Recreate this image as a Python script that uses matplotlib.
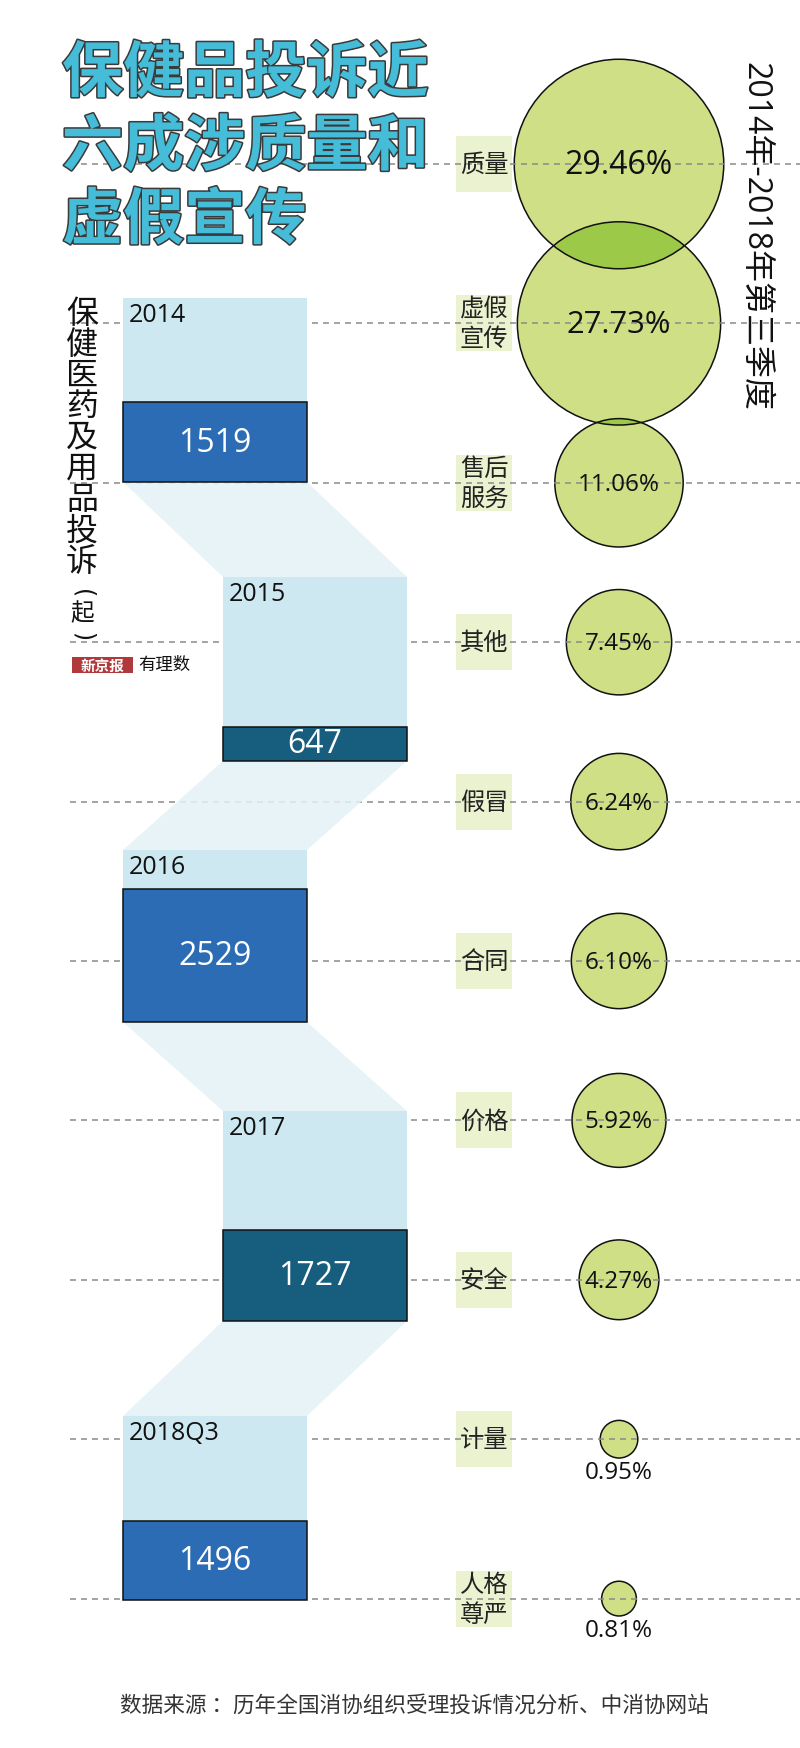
import numpy as np
import matplotlib
matplotlib.use("Agg")
import matplotlib.pyplot as plt
from matplotlib.patches import Rectangle, Circle, Polygon
import matplotlib.patheffects as pe

plt.rcParams['font.family'] = ['Open Sans', 'Noto Sans CJK SC', 'DejaVu Sans']

# ---------------- data ----------------
years = ['2014', '2015', '2016', '2017', '2018Q3']
complaints = [1519, 647, 2529, 1727, 1496]

categories = ['质量', '虚假\n宣传', '售后\n服务', '其他', '假冒', '合同', '价格', '安全', '计量', '人格\n尊严']
shares = [29.46, 27.73, 11.06, 7.45, 6.24, 6.10, 5.92, 4.27, 0.95, 0.81]

title_lines = ['保健品投诉近', '六成涉质量和', '虚假宣传']
ylabel_main = '保健医药及用品投诉'
ylabel_unit = '起'
period_text = '2014年-2018年第三季度'
source_text = '数据来源 ：历年全国消协组织受理投诉情况分析、中消协网站'

# ---------------- layout ----------------
W, H = 800, 1749
fig = plt.figure(figsize=(W / 100, H / 100), dpi=100)
ax = fig.add_axes([0, 0, 1, 1])
ax.set_xlim(0, W)
ax.set_ylim(H, 0)
ax.axis('off')

row_y0, row_step = 165, 159.4
rows = [row_y0 + row_step * i for i in range(len(categories))]

# dashed guide lines
for y in rows:
    ax.plot([70, W], [y, y], color='#8a8a8a', lw=1.1, ls=(0, (3.9, 3.3)), zorder=2)

# ---- complaint boxes (left part) ----
box_w = 184
col_left = [123, 223, 123, 223, 123]
box_bottom = [483, 762, 1023, 1322, 1601]
box_top = [299, 578, 851, 1112, 1417]
dark_cols = ['#2B6CB4', '#175E7E', '#2B6CB4', '#175E7E', '#2B6CB4']
light_col = '#CDE8F0'
container_max = 3500  # value represented by a full container of 184 px
scale = 184 / container_max

# connectors
for i in range(len(years) - 1):
    xl0, yb = col_left[i], box_bottom[i]
    xl1, yt = col_left[i + 1], box_top[i + 1]
    poly = Polygon([(xl0, yb), (xl0 + box_w, yb), (xl1 + box_w, yt), (xl1, yt)],
                   closed=True, facecolor='#E4F2F6', edgecolor='none', alpha=0.85, zorder=2.5)
    ax.add_patch(poly)

# light containers
for i in range(len(years)):
    ax.add_patch(Rectangle((col_left[i], box_top[i]), box_w, box_bottom[i] - box_top[i],
                           facecolor=light_col, edgecolor='none', zorder=3))

# dark bars proportional to complaints
heights = np.array(complaints) * scale
centers = np.array(col_left) + box_w / 2
ax.bar(centers, heights, width=box_w, bottom=np.array(box_bottom) - heights,
       color=dark_cols, edgecolor='#111111', linewidth=1.1, zorder=3.5)

for i, (yr, v) in enumerate(zip(years, complaints)):
    ax.text(col_left[i] + 6, box_top[i] + 17, yr, fontsize=18, color='#111111',
            ha='left', va='center', zorder=5)
    yc = box_bottom[i] - heights[i] / 2
    ax.text(centers[i], yc, str(v), fontsize=23, color='white',
            ha='center', va='center', zorder=5)

# ---- title ----
for i, line in enumerate(title_lines):
    ax.text(62, 75 + 73.5 * i, line, fontsize=44, fontweight='heavy',
            family=['Noto Sans CJK SC'], color='#45BCD8', ha='left', va='center',
            zorder=6,
            path_effects=[pe.Stroke(linewidth=2.2, foreground='#3a3a3a'), pe.Normal()])

# ---- vertical y label ----
for i, ch in enumerate(ylabel_main):
    ax.text(82, 313.5 + 31.1 * i, ch, fontsize=23, color='#111111',
            family=['Noto Sans CJK SC'], ha='center', va='center', zorder=5)
ax.text(83, 594, '(', fontsize=17, color='#111111', family=['DejaVu Sans'],
        rotation=-90, ha='center', va='center', zorder=5)
ax.text(82, 614, ylabel_unit, fontsize=17, color='#111111', family=['Noto Sans CJK SC'],
        ha='center', va='center', zorder=5)
ax.text(83, 637, ')', fontsize=17, color='#111111', family=['DejaVu Sans'],
        rotation=-90, ha='center', va='center', zorder=5)

# logo
ax.add_patch(Rectangle((72, 658), 61, 16, facecolor='#B0393B', edgecolor='none', zorder=5))
ax.text(102.5, 666, '新京报', fontsize=10.5, color='white', fontweight='bold',
        family=['Noto Sans CJK SC'], ha='center', va='center', zorder=6)
ax.text(164, 665, '有理数', fontsize=12.5, color='#111111',
        family=['Noto Sans CJK SC'], ha='center', va='center', zorder=6)

# ---- bubbles (right part) ----
bubble_x = 619
bub_col = '#CEDF86'
overlap_col = '#9DC949'
r_k = 19.3
circles = []
for i, p in enumerate(shares):
    r = r_k * np.sqrt(p)
    c = Circle((bubble_x, rows[i]), r, facecolor=bub_col, edgecolor='none', zorder=1)
    ax.add_patch(c)
    circles.append(c)
# overlap lens between neighbouring bubbles
for i in range(len(shares) - 1):
    r1 = r_k * np.sqrt(shares[i]); r2 = r_k * np.sqrt(shares[i + 1])
    if r1 + r2 > rows[i + 1] - rows[i]:
        lens = Circle((bubble_x, rows[i + 1]), r2, facecolor=overlap_col,
                      edgecolor='none', zorder=1.2)
        ax.add_patch(lens)
        lens.set_clip_path(circles[i])
for i, p in enumerate(shares):
    r = r_k * np.sqrt(p)
    ax.add_patch(Circle((bubble_x, rows[i]), r, facecolor='none', edgecolor='#111111',
                        lw=1.1, zorder=1.3))
    if r > 30:
        fs = max(17.5, min(23, r * 0.22))
        ax.text(bubble_x, rows[i] + 1, f'{p:.2f}%', fontsize=fs, color='#111111',
                ha='center', va='center', zorder=4)
    else:
        ax.text(bubble_x, rows[i] + r + 14, f'{p:.2f}%', fontsize=17.5, color='#111111',
                ha='center', va='center', zorder=4)

# category label boxes
for i, cat in enumerate(categories):
    ax.add_patch(Rectangle((456, rows[i] - 28), 56, 56, facecolor='#EBF2CF',
                           edgecolor='none', zorder=1.4))
    ax.text(484, rows[i], cat, fontsize=17.5, color='#222222', family=['Noto Sans CJK SC'],
            ha='center', va='center', linespacing=1.2, zorder=4)

# period vertical text
ax.text(755, 237, period_text, fontsize=23, color='#111111', rotation=-90,
        ha='center', va='center', zorder=5)

# source
ax.text(414, 1706, source_text, fontsize=15.6, color='#333333',
        family=['Noto Sans CJK SC'], ha='center', va='center', zorder=5)

fig.savefig('out.png', dpi=100, facecolor='white')
